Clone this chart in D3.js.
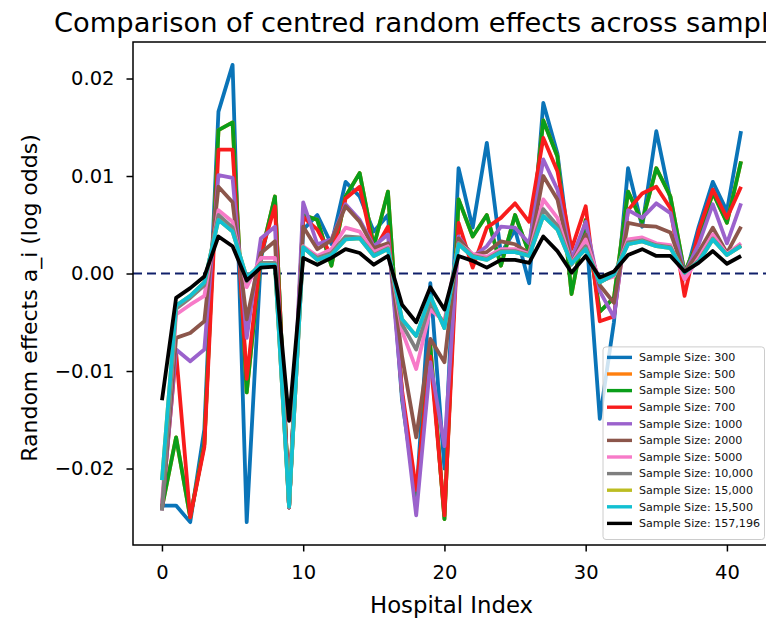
<!DOCTYPE html>
<html>
<head>
<meta charset="utf-8">
<script src="https://cdn.jsdelivr.net/npm/d3@7"></script>
<style>
  body { margin: 0; background: #fff; }
  svg { display: block; font-family: "DejaVu Sans", sans-serif; }
</style>
</head>
<body>
<svg id="chart" width="766" height="619"></svg>
<script>
// Hospital index on the x axis
const hospitals = [0,1,2,3,4,5,6,7,8,9,10,11,12,13,14,15,16,17,18,19,20,
                   21,22,23,24,25,26,27,28,29,30,31,32,33,34,35,36,37,38,39,40,41];

// Centred random effects a_i (log odds), one array per sample size
const size300 = [-0.0238,-0.0238,-0.0255,-0.0160,0.0166,0.0214,-0.0255,0.0015,0.0078,-0.0240,
  0.0045,0.0060,0.0030,0.0094,0.0079,0.0043,0.0060,-0.0130,-0.0232,-0.0010,-0.0200,
  0.0108,0.0047,0.0134,0.0020,0.0045,-0.0010,0.0175,0.0123,0.0009,0.0050,
  -0.0149,-0.0050,0.0108,0.0048,0.0146,0.0076,-0.0006,0.0048,0.0094,0.0064,0.0146];
const size500a = [-0.0240,-0.0168,-0.0250,-0.0175,0.0147,0.0155,-0.0122,0.0018,0.0079,-0.0240,
  0.0060,0.0055,0.0008,0.0079,0.0103,0.0028,0.0084,-0.0125,-0.0230,-0.0074,-0.0252,
  0.0076,0.0038,0.0060,0.0008,0.0060,0.0021,0.0157,0.0120,-0.0021,0.0055,
  -0.0039,-0.0025,0.0084,0.0053,0.0108,0.0079,0.0001,0.0035,0.0083,0.0052,0.0115];
const size500b = [-0.0240,-0.0168,-0.0250,-0.0175,0.0147,0.0155,-0.0122,0.0018,0.0079,-0.0240,
  0.0060,0.0055,0.0008,0.0079,0.0103,0.0028,0.0084,-0.0125,-0.0230,-0.0074,-0.0252,
  0.0076,0.0038,0.0060,0.0008,0.0060,0.0021,0.0157,0.0120,-0.0021,0.0055,
  -0.0039,-0.0025,0.0084,0.0053,0.0108,0.0079,0.0001,0.0035,0.0083,0.0052,0.0115];
const size700 = [-0.0240,-0.0081,-0.0250,-0.0178,0.0127,0.0127,-0.0108,0.0020,0.0069,-0.0240,
  0.0058,0.0045,0.0018,0.0077,0.0089,0.0023,0.0048,-0.0120,-0.0222,-0.0085,-0.0248,
  0.0052,0.0006,0.0047,0.0057,0.0072,0.0053,0.0139,0.0105,0.0025,0.0069,
  -0.0049,-0.0044,0.0065,0.0082,0.0089,0.0067,-0.0023,0.0044,0.0086,0.0057,0.0089];
const size1000 = [-0.0243,-0.0078,-0.0090,-0.0078,0.0101,0.0098,-0.0066,0.0036,0.0048,-0.0240,
  0.0073,0.0030,0.0035,0.0071,0.0055,0.0028,0.0040,-0.0125,-0.0248,-0.0091,-0.0177,
  0.0038,0.0017,0.0028,0.0048,0.0047,0.0031,0.0117,0.0086,0.0015,0.0053,
  -0.0018,-0.0045,0.0065,0.0057,0.0072,0.0062,0.0000,0.0030,0.0071,0.0031,0.0072];
const size2000 = [-0.0243,-0.0066,-0.0061,-0.0049,0.0089,0.0073,-0.0047,0.0021,0.0033,-0.0235,
  0.0048,0.0025,0.0034,0.0069,0.0053,0.0026,0.0031,-0.0085,-0.0168,-0.0067,-0.0091,
  0.0036,0.0019,0.0022,0.0033,0.0030,0.0021,0.0100,0.0076,0.0010,0.0040,
  -0.0012,-0.0030,0.0052,0.0049,0.0048,0.0042,0.0001,0.0022,0.0047,0.0021,0.0048];
const size5000 = [-0.0236,-0.0042,-0.0032,-0.0023,0.0065,0.0053,-0.0014,0.0016,0.0016,-0.0238,
  0.0028,0.0018,0.0025,0.0047,0.0043,0.0022,0.0028,-0.0059,-0.0098,-0.0037,-0.0049,
  0.0031,0.0020,0.0017,0.0025,0.0025,0.0020,0.0076,0.0057,0.0010,0.0035,
  -0.0008,-0.0003,0.0035,0.0037,0.0031,0.0029,-0.0006,0.0016,0.0040,0.0020,0.0031];
const size10000 = [-0.0243,-0.0036,-0.0025,-0.0012,0.0060,0.0047,-0.0008,0.0011,0.0011,-0.0238,
  0.0026,0.0016,0.0021,0.0038,0.0037,0.0019,0.0026,-0.0052,-0.0078,-0.0030,-0.0052,
  0.0031,0.0018,0.0015,0.0023,0.0023,0.0019,0.0066,0.0049,0.0010,0.0028,
  -0.0009,-0.0001,0.0032,0.0034,0.0029,0.0027,0.0001,0.0013,0.0036,0.0019,0.0029];
const size15000 = [-0.0212,-0.0033,-0.0023,-0.0009,0.0055,0.0043,-0.0004,0.0009,0.0009,-0.0239,
  0.0027,0.0014,0.0019,0.0035,0.0036,0.0018,0.0025,-0.0047,-0.0064,-0.0023,-0.0056,
  0.0030,0.0017,0.0014,0.0022,0.0022,0.0018,0.0059,0.0045,0.0010,0.0025,
  -0.0009,-0.0001,0.0030,0.0033,0.0028,0.0026,0.0001,0.0012,0.0035,0.0019,0.0028];
const size15500 = [-0.0212,-0.0033,-0.0023,-0.0009,0.0055,0.0043,-0.0004,0.0009,0.0009,-0.0239,
  0.0027,0.0014,0.0019,0.0035,0.0036,0.0018,0.0025,-0.0047,-0.0064,-0.0023,-0.0056,
  0.0030,0.0017,0.0014,0.0022,0.0022,0.0018,0.0059,0.0045,0.0010,0.0025,
  -0.0009,-0.0001,0.0030,0.0033,0.0028,0.0026,0.0001,0.0012,0.0035,0.0019,0.0028];
const size157196 = [-0.0130,-0.0025,-0.0015,-0.0003,0.0038,0.0028,-0.0007,0.0006,0.0007,-0.0151,
  0.0016,0.0009,0.0016,0.0025,0.0021,0.0009,0.0018,-0.0032,-0.0050,-0.0014,-0.0037,
  0.0018,0.0013,0.0006,0.0014,0.0014,0.0011,0.0038,0.0023,0.0001,0.0018,
  -0.0004,0.0002,0.0019,0.0025,0.0018,0.0018,0.0002,0.0011,0.0023,0.0010,0.0018];

const seriesLabels = ["Sample Size: 300","Sample Size: 500","Sample Size: 500","Sample Size: 700",
  "Sample Size: 1000","Sample Size: 2000","Sample Size: 5000","Sample Size: 10,000",
  "Sample Size: 15,000","Sample Size: 15,500","Sample Size: 157,196"];
const seriesValues = [size300,size500a,size500b,size700,size1000,size2000,size5000,
  size10000,size15000,size15500,size157196];
const seriesColors = ["#0a74b8","#ff7f0e","#0a9e1a","#f81c1c","#9b62cc","#8c564b",
  "#f77ac8","#7f7f7f","#bcbd22","#12c0d2","#000000"];

const xTicks = [0,10,20,30,40];
const yTicks = [-0.02,-0.01,0.00,0.01,0.02];

const titleText = "Comparison of centred random effects across sample sizes";
const xLabel = "Hospital Index";
const yLabel = "Random effects a_i (log odds)";

// ---- layout ----
const svg = d3.select("#chart");
const plot = { left: 133, top: 42, right: 770, bottom: 545 };

// 5% padding around the data extent on both axes
const xExt = d3.extent(hospitals);
const xPad = (xExt[1] - xExt[0]) * 0.05;
const allVals = seriesValues.flat();
const yExt = d3.extent(allVals);
const yPad = (yExt[1] - yExt[0]) * 0.05;

const x = d3.scaleLinear().domain([xExt[0] - xPad, xExt[1] + xPad]).range([plot.left, plot.right]);
const y = d3.scaleLinear().domain([yExt[0] - yPad, yExt[1] + yPad]).range([plot.bottom, plot.top]);

// zero reference line
svg.append("line")
  .attr("x1", plot.left).attr("x2", plot.right)
  .attr("y1", y(0)).attr("y2", y(0))
  .attr("stroke", "#10206a").attr("stroke-width", 2)
  .attr("stroke-dasharray", "9,5");

// series lines
const line = d3.line()
  .x((d, i) => x(hospitals[i]))
  .y(d => y(d));

svg.append("g").selectAll("path")
  .data(seriesValues)
  .join("path")
  .attr("d", line)
  .attr("fill", "none")
  .attr("stroke", (d, i) => seriesColors[i])
  .attr("stroke-width", 3.8)
  .attr("stroke-linejoin", "round");

// axes
const fmt = v => d3.format(".2f")(v).replace("-", "\u2212");
const yAxis = d3.axisLeft(y).tickValues(yTicks).tickFormat(fmt).tickSize(6.5).tickPadding(12);
const xAxis = d3.axisBottom(x).tickValues(xTicks).tickFormat(d3.format("d")).tickSize(6.5).tickPadding(14);

const gy = svg.append("g").attr("transform", `translate(${plot.left},0)`).call(yAxis);
const gx = svg.append("g").attr("transform", `translate(0,${plot.bottom})`).call(xAxis);
[gx, gy].forEach(g => {
  g.select(".domain").remove();
  g.selectAll(".tick line").attr("stroke", "#000").attr("stroke-width", 1.5);
  g.selectAll(".tick text").attr("fill", "#000").style("font-size", "19.5px")
    .style("font-family", "DejaVu Sans, sans-serif");
});

// spines
svg.append("rect")
  .attr("x", plot.left).attr("y", plot.top)
  .attr("width", plot.right - plot.left).attr("height", plot.bottom - plot.top)
  .attr("fill", "none").attr("stroke", "#000").attr("stroke-width", 1.5);

// title (runs past the right edge of the figure) and axis labels
svg.append("text")
  .attr("x", 54).attr("y", 32)
  .attr("text-anchor", "start").style("font-size", "27.3px")
  .text(titleText);

svg.append("text")
  .attr("x", (plot.left + plot.right) / 2).attr("y", 613)
  .attr("text-anchor", "middle").style("font-size", "22.8px")
  .text(xLabel);

svg.append("text")
  .attr("transform", `translate(37,298) rotate(-90)`)
  .attr("text-anchor", "middle").style("font-size", "22px")
  .text(yLabel);

// legend, lower right inside the axes
const fs = 11.1;
const rowH = 16.6;
const legRight = plot.right - 5.5;
const legBottom = plot.bottom - 5.5;
const legW = 161.5;
const legH = 8 + rowH * seriesLabels.length + 2;
const legX = legRight - legW, legY = legBottom - legH;
const leg = svg.append("g").attr("transform", `translate(${legX},${legY})`);
leg.append("rect")
  .attr("width", legW).attr("height", legH).attr("rx", 3)
  .attr("fill", "#fff").attr("fill-opacity", 0.8)
  .attr("stroke", "#cccccc").attr("stroke-width", 1);
const rows = leg.selectAll("g.row").data(seriesLabels).join("g")
  .attr("class", "row")
  .attr("transform", (d, i) => `translate(0,${10.5 + i * rowH})`);
rows.append("line")
  .attr("x1", 4).attr("x2", 29)
  .attr("stroke", (d, i) => seriesColors[i]).attr("stroke-width", 3.4);
rows.append("text")
  .attr("x", 36).attr("dy", "0.35em")
  .style("font-size", fs + "px").attr("fill", "#111")
  .text(d => d);
</script>
</body>
</html>
